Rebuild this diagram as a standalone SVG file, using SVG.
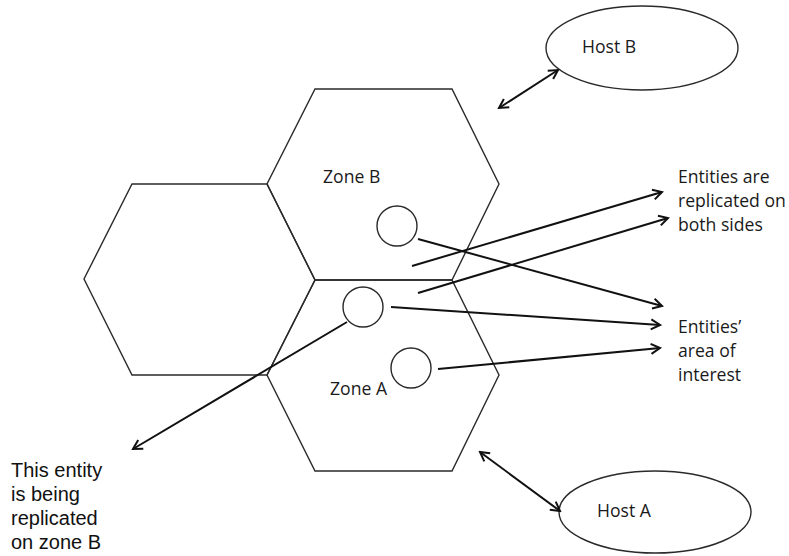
<svg xmlns="http://www.w3.org/2000/svg" width="789" height="556" viewBox="0 0 789 556">
  <style>
    .hex { fill: none; stroke: #2a2a2a; stroke-width: 1.4; stroke-linejoin: miter; }
    .ent { fill: #fff; stroke: #2a2a2a; stroke-width: 1.4; }
    .host { fill: #fff; stroke: #2a2a2a; stroke-width: 1.4; }
    .lbl { font-family: "Open Sans", "Liberation Sans", sans-serif; font-size: 17.6px; fill: #1a1a1a; }
    .note { font-family: "Liberation Sans", Arial, sans-serif; font-size: 20px; fill: #111; }
    .conn { fill: none; stroke: #111; stroke-width: 2; }
  </style>
  <defs>
    <marker id="arr" viewBox="-11 -7 13 14" refX="0" refY="0" markerWidth="13" markerHeight="14" markerUnits="userSpaceOnUse" orient="auto-start-reverse">
      <path d="M-9,-5 L0,0 L-9,5" fill="none" stroke="#111" stroke-width="2"/>
    </marker>
  </defs>
  <rect width="789" height="556" fill="#fff"/>

  <!-- zones: three hexagons sharing edges -->
  <g id="zone-left">
    <polygon class="hex" points="132,184 267,184 315,280 267,375 132,375 84,279"/>
  </g>
  <g id="zone-b">
    <polygon class="hex" points="315,89 452,89 499,184 452,280 315,280 267,184"/>
    <text class="lbl" x="323" y="183">Zone B</text>
  </g>
  <g id="zone-a">
    <polygon class="hex" points="315,280 452,280 499,375 452,471 315,471 267,375"/>
    <text class="lbl" x="330" y="395">Zone A</text>
  </g>

  <!-- entities -->
  <g id="entity-b">
    <circle class="ent" cx="397" cy="226" r="20"/>
  </g>
  <g id="entity-a1">
    <circle class="ent" cx="363" cy="307" r="20"/>
  </g>
  <g id="entity-a2">
    <circle class="ent" cx="411" cy="368" r="20"/>
  </g>

  <!-- hosts -->
  <g id="host-b">
    <ellipse class="host" cx="642" cy="48" rx="96" ry="42"/>
    <text class="lbl" x="582" y="53">Host B</text>
  </g>
  <g id="host-a">
    <ellipse class="host" cx="655" cy="512" rx="96" ry="41"/>
    <text class="lbl" x="597" y="517">Host A</text>
  </g>

  <!-- labels -->
  <g id="label-replicated">
    <text class="lbl" x="678" y="183">Entities are</text>
    <text class="lbl" x="678" y="207">replicated on</text>
    <text class="lbl" x="678" y="231">both sides</text>
  </g>
  <g id="label-interest">
    <text class="lbl" x="678" y="333">Entities’</text>
    <text class="lbl" x="678" y="357">area of</text>
    <text class="lbl" x="678" y="381">interest</text>
  </g>
  <g id="label-entity">
    <text class="note" x="11" y="477">This entity</text>
    <text class="note" x="11" y="501">is being</text>
    <text class="note" x="11" y="525">replicated</text>
    <text class="note" x="11" y="549">on zone B</text>
  </g>

  <!-- connectors -->
  <g id="connectors">
    <line class="conn" x1="418" y1="239" x2="662" y2="306" marker-end="url(#arr)"/>
    <line class="conn" x1="412" y1="266" x2="662" y2="192" marker-end="url(#arr)"/>
    <line class="conn" x1="418" y1="293" x2="668" y2="218" marker-end="url(#arr)"/>
    <line class="conn" x1="391" y1="307" x2="660" y2="325" marker-end="url(#arr)"/>
    <line class="conn" x1="438" y1="369" x2="660" y2="348" marker-end="url(#arr)"/>
    <line class="conn" x1="347" y1="322" x2="133" y2="449" marker-end="url(#arr)"/>
    <line class="conn" x1="558" y1="70" x2="499" y2="108" marker-start="url(#arr)" marker-end="url(#arr)"/>
    <line class="conn" x1="480" y1="452" x2="560" y2="511" marker-start="url(#arr)" marker-end="url(#arr)"/>
  </g>
</svg>
